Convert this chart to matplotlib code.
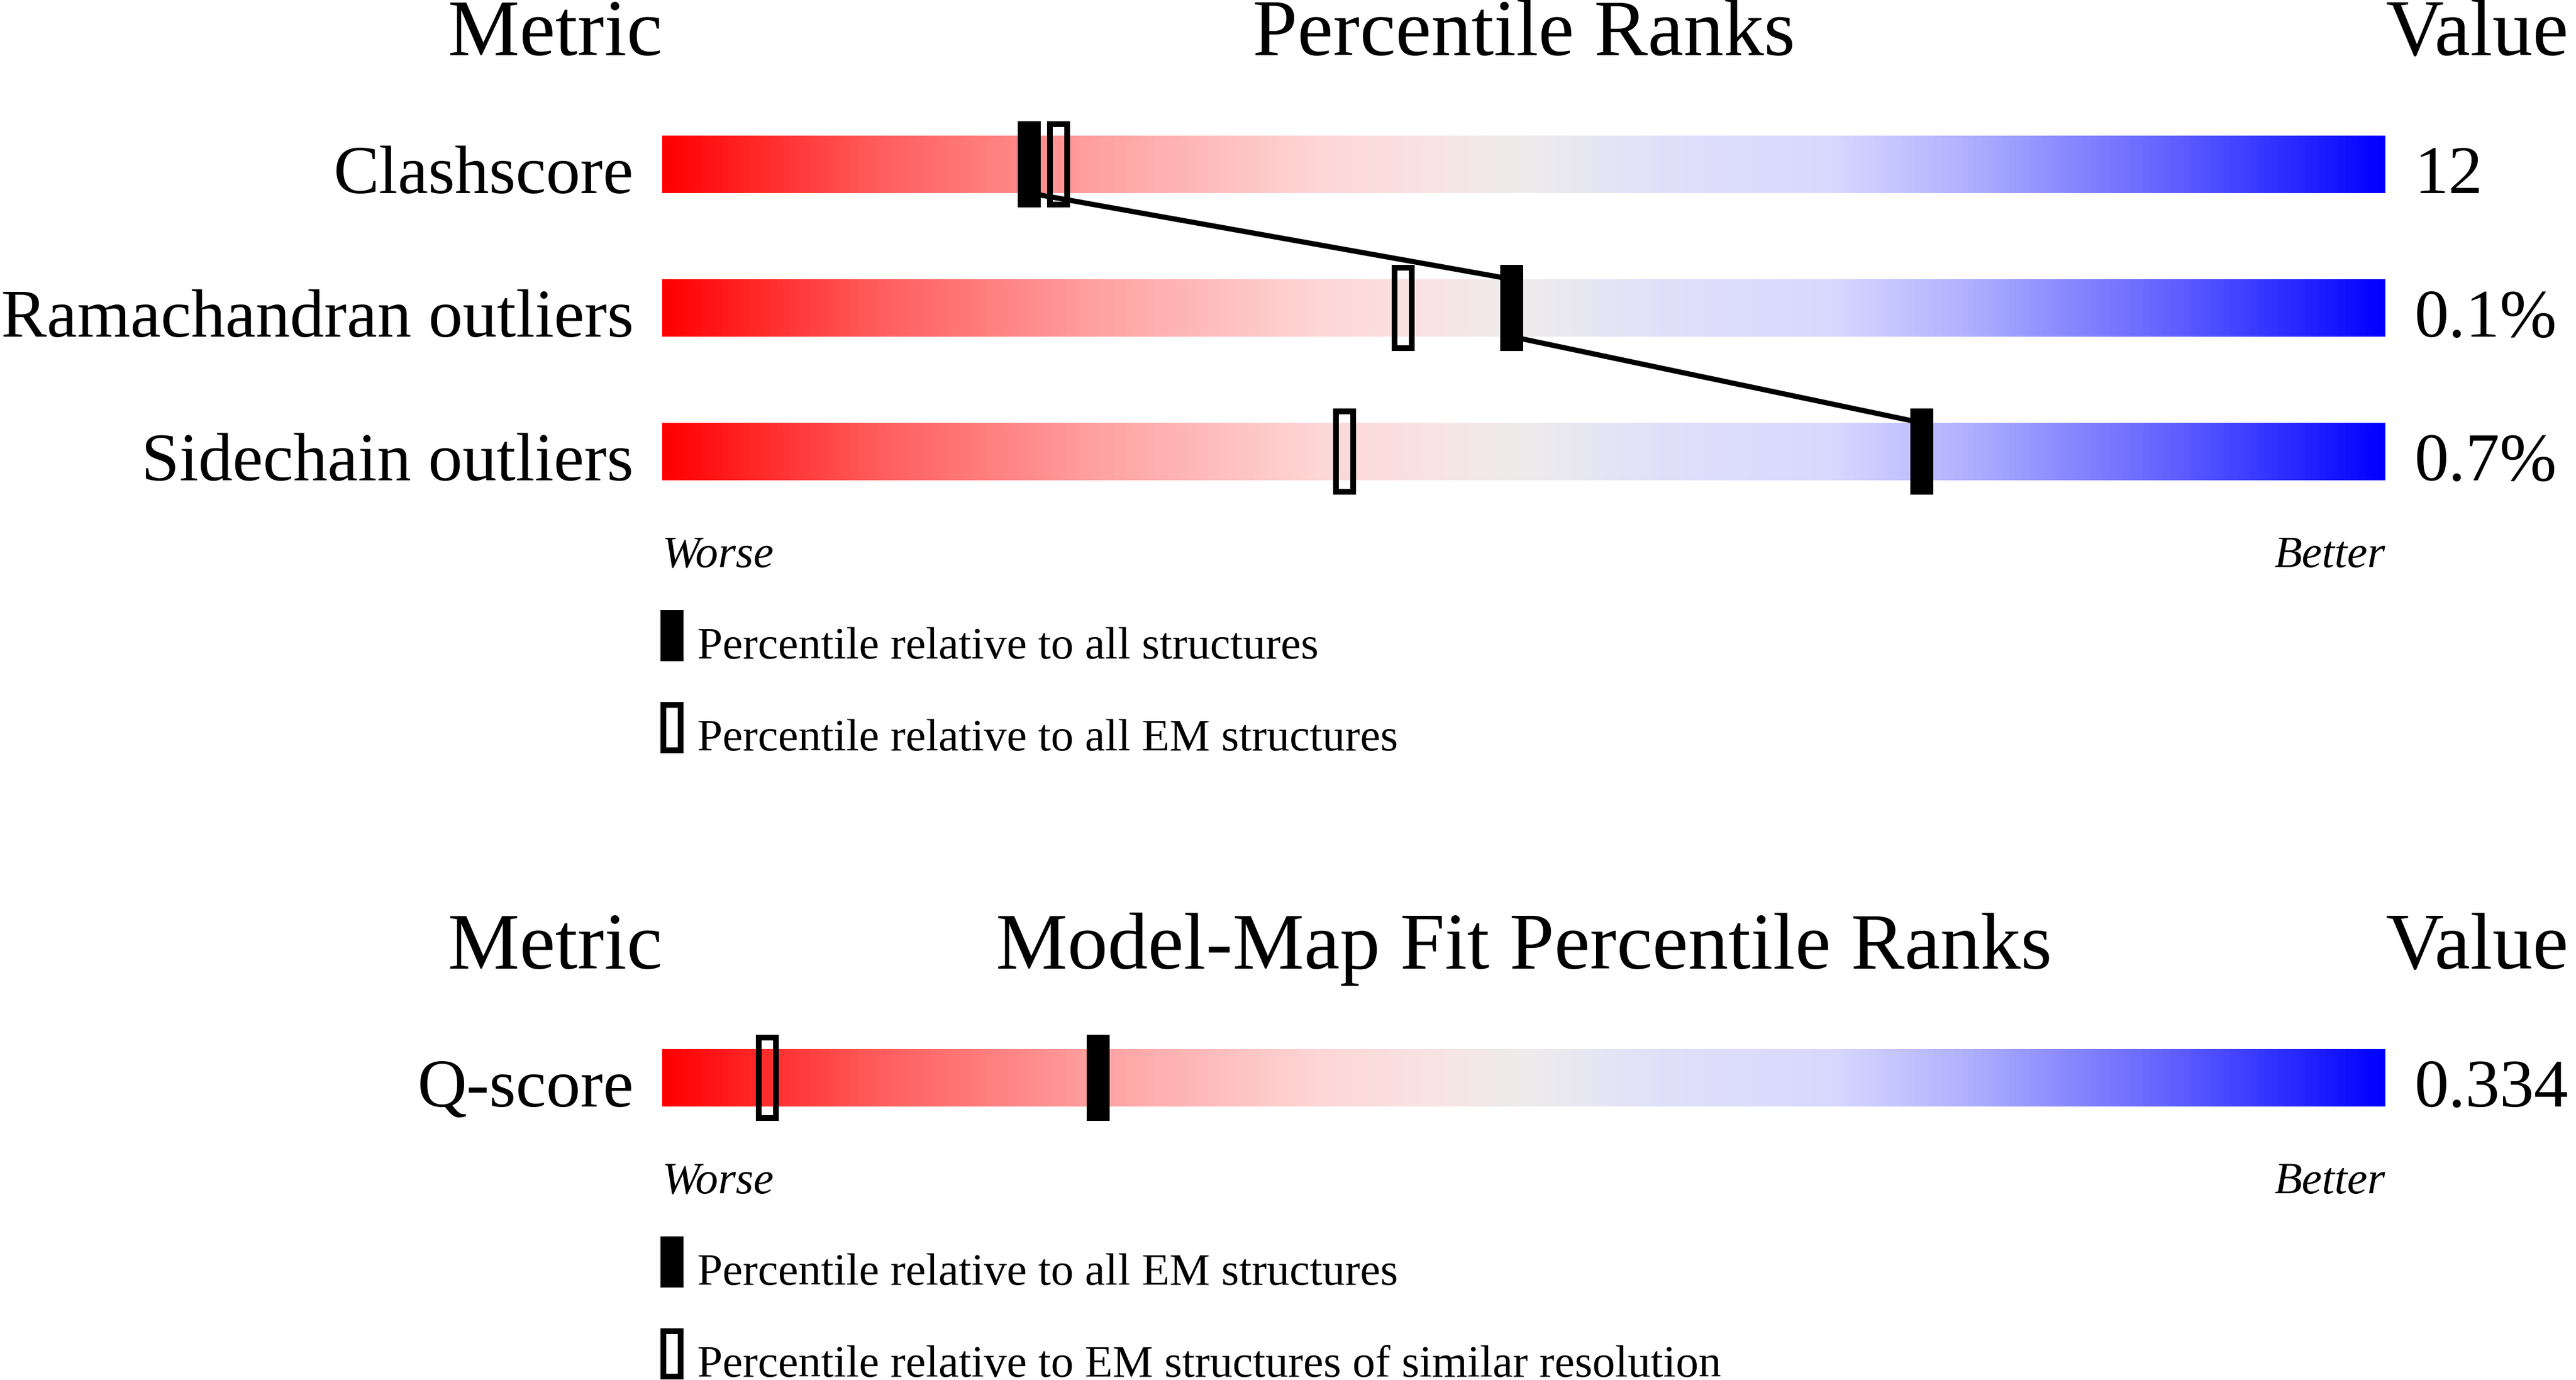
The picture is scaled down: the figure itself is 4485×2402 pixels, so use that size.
import numpy as np
import matplotlib
matplotlib.use("Agg")
import matplotlib.pyplot as plt
from matplotlib.colors import LinearSegmentedColormap
from matplotlib.patches import Rectangle

# values
metrics = ["Clashscore", "Ramachandran outliers", "Sidechain outliers"]
metric_values = ["12", "0.1%", "0.7%"]
pct_all = [21.3, 49.3, 73.1]      # filled markers
pct_em = [23.0, 43.0, 39.6]       # open markers
legend_1 = ["Percentile relative to all structures",
            "Percentile relative to all EM structures"]

fit_metrics = ["Q-score"]
fit_values = ["0.334"]
fit_pct_em = [25.3]               # filled
fit_pct_res = [6.1]               # open
legend_2 = ["Percentile relative to all EM structures",
            "Percentile relative to EM structures of similar resolution"]

plt.rcParams["font.family"] = ["Liberation Serif", "DejaVu Serif"]

W, H = 4485, 2402
DPI = 300
fig = plt.figure(figsize=(W / DPI, H / DPI), dpi=DPI)

# slider gradient
stops = [(0.00, (255, 0, 0)), (0.12, (255, 90, 90)), (0.25, (255, 160, 160)),
         (0.38, (254, 214, 214)), (0.44, (250, 226, 226)), (0.50, (238, 236, 236)),
         (0.58, (224, 224, 250)), (0.68, (216, 216, 255)), (0.76, (175, 175, 255)),
         (0.88, (95, 95, 255)), (1.00, (0, 0, 255))]
cmap = LinearSegmentedColormap.from_list(
    "slider", [(s, tuple(c / 255 for c in rgb)) for s, rgb in stops])
grad = np.linspace(0, 1, 1024).reshape(1, -1)

BAR_X0, BAR_W = 1153, 3000      # pixels
ROW_PX = 250                    # pixels per row unit
PX_X = 100 / BAR_W              # percent per pixel
BAR_H = 100 / ROW_PX
MARK_W = 40 * PX_X
MARK_H = 150 / ROW_PX
EDGE = 10 * 72 / DPI            # open marker border, points


def open_box(ax, xc, yc, w, h):
    lw_x = 10 * PX_X
    lw_y = 10 / ROW_PX
    ax.add_patch(Rectangle((xc - (w - lw_x) / 2, yc - (h - lw_y) / 2), w - lw_x, h - lw_y,
                           fill=False, edgecolor="black", linewidth=EDGE,
                           joinstyle="miter", clip_on=False, zorder=4))


def panel(row0_px, title, names, vals, filled, hollow, legend, connect):
    n = len(names)
    y_top, y_bot = -0.85, n - 1 + 2.15
    top_px = row0_px + y_top * ROW_PX
    bot_px = row0_px + y_bot * ROW_PX
    ax = fig.add_axes([BAR_X0 / W, 1 - bot_px / H, BAR_W / W, (bot_px - top_px) / H])
    ax.set_xlim(0, 100)
    ax.set_ylim(y_bot, y_top)
    ax.axis("off")

    title_y = -190 / ROW_PX
    ax.text(0, title_y, "Metric", ha="right", va="baseline", fontsize=33.6)
    ax.text(50, title_y, title, ha="center", va="baseline", fontsize=33.6)
    ax.text(100, title_y, "Value", ha="left", va="baseline", fontsize=33.6)

    for i in range(n):
        ax.imshow(grad, cmap=cmap, aspect="auto", interpolation="bilinear",
                  extent=(0, 100, i + BAR_H / 2, i - BAR_H / 2), zorder=1)
        ax.text(-50 * PX_X, i + BAR_H / 2, names[i], ha="right", va="baseline", fontsize=28.6)
        ax.text(100 + 50 * PX_X, i + BAR_H / 2, vals[i], ha="left", va="baseline", fontsize=28.6)
        ax.add_patch(Rectangle((filled[i] - MARK_W / 2, i - MARK_H / 2), MARK_W, MARK_H,
                               facecolor="black", edgecolor="none", clip_on=False, zorder=3))
        open_box(ax, hollow[i], i, MARK_W, MARK_H)

    if connect and n > 1:
        xs, ys = [], []
        for i in range(n):
            if i > 0:
                xs.append(filled[i]); ys.append(i - BAR_H / 2)
            if i < n - 1:
                xs.append(filled[i]); ys.append(i + BAR_H / 2)
        ax.plot(xs, ys, color="black", linewidth=9 * 72 / DPI, zorder=2,
                solid_capstyle="butt", clip_on=False)

    ax.set_xlim(0, 100)
    ax.set_ylim(y_bot, y_top)

    wy = n - 1 + 201 / ROW_PX
    ax.text(0, wy, "Worse", ha="left", va="baseline", fontsize=19, style="italic")
    ax.text(100, wy, "Better", ha="right", va="baseline", fontsize=19, style="italic")

    leg_w = 40 * PX_X
    leg_h = 89 / ROW_PX
    for k, label in enumerate(legend):
        ly = wy + 75 / ROW_PX + k * 160 / ROW_PX
        lx = -3 * PX_X
        if k == 0:
            ax.add_patch(Rectangle((lx, ly), leg_w, leg_h, facecolor="black",
                                   edgecolor="none", clip_on=False))
        else:
            open_box(ax, lx + leg_w / 2, ly + leg_h / 2, leg_w, leg_h)
        ax.text(61 * PX_X, ly + leg_h - 5 / ROW_PX, label, ha="left", va="baseline", fontsize=19)
    return ax


panel(286, "Percentile Ranks", metrics, metric_values, pct_all, pct_em, legend_1, True)
panel(1876, "Model-Map Fit Percentile Ranks", fit_metrics, fit_values,
      fit_pct_em, fit_pct_res, legend_2, False)

fig.savefig("out.png", dpi=DPI, facecolor="white")
